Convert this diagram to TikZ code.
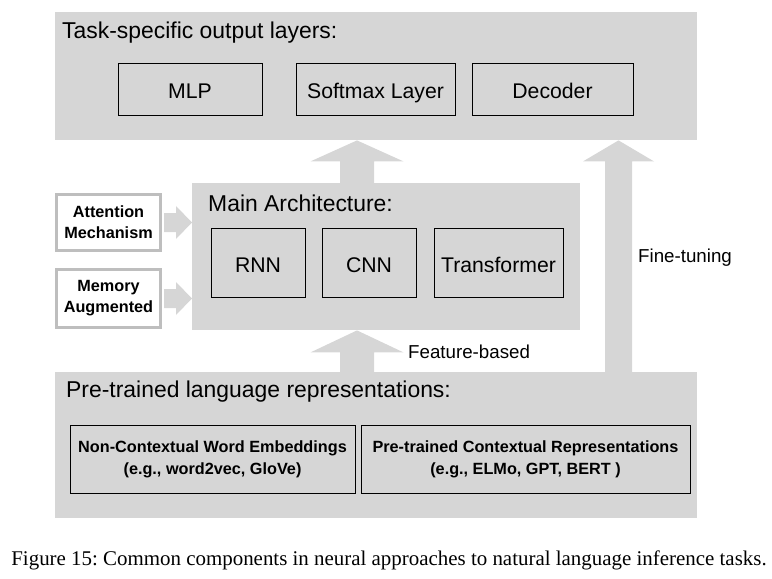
\documentclass[tikz,border=0pt]{standalone}
\usepackage{fontspec}
\setmainfont{Liberation Serif}
\setsansfont{Liberation Sans}
\usepackage{tikz}
\usetikzlibrary{calc}
\definecolor{panelgray}{RGB}{214,214,214}
\definecolor{edgegray}{RGB}{190,190,190}
\def\upblock(#1)(#2)(#3:#4:#5){\fill[panelgray] ($(#1)+(-#3,0)$) -- ($(#2)+(-#3,#5)$) -- ($(#2)+(-#4,#5)$) -- (#2) -- ($(#2)+(#4,#5)$) -- ($(#2)+(#3,#5)$) -- ($(#1)+(#3,0)$) -- cycle;}
\def\rightblock(#1)(#2)(#3:#4:#5){\fill[panelgray] ($(#1)+(2,-#3)$) -- ($(#2)+(-#5,-#3)$) -- ($(#2)+(-#5,-#4)$) -- (#2) -- ($(#2)+(-#5,#4)$) -- ($(#2)+(-#5,#3)$) -- ($(#1)+(2,#3)$) -- cycle;}
\tikzset{
  panel/.style={fill=panelgray, inner sep=0, anchor=north west},
  title/.style={inner sep=0, anchor=west, font=\sffamily\fontsize{23}{27}\selectfont},
  unit/.style={draw, line width=0.8bp, inner sep=0, text height=20bp, text depth=0pt, font=\sffamily\fontsize{21.3}{25}\selectfont},
  extra/.style={draw=edgegray, fill=white, line width=3bp, inner sep=0, minimum width=104bp, align=center, font=\sffamily\bfseries\fontsize{16.3}{21}\selectfont},
  embed/.style={draw, line width=0.8bp, inner sep=0, minimum height=68bp, align=center, font=\sffamily\bfseries\fontsize{16.3}{22}\selectfont},
  note/.style={inner sep=0, anchor=west, font=\sffamily\fontsize{18.8}{22}\selectfont}
}

\begin{document}
\begin{tikzpicture}[x=1bp, y=-1bp]
		%%%%% START %%%%%
		\useasboundingbox (0,0) rectangle (772,579);
		
		% output layers
		\node[panel, minimum width=642bp, minimum height=128bp] (top) at (55,12) {};
		\node[title] (toptitle) at (62,33) {Task-specific output layers:};
		\node[unit, minimum width=144bp, minimum height=52bp] (mlp) at (190,89) {MLP};
		\node[unit, minimum width=159bp, minimum height=52bp] (softmax) at (375.5,89) {Softmax Layer};
		\node[unit, minimum width=161bp, minimum height=52bp] (decoder) at (552.5,89) {Decoder};
		
		% main architecture
		\node[panel, minimum width=388bp, minimum height=147bp] (main) at (192,183) {};
		\node[title] (maintitle) at (208,203) {Main Architecture:};
		\node[unit, minimum width=94bp, minimum height=69bp] (rnn) at (258,262.5) {RNN};
		\node[unit, minimum width=94bp, minimum height=69bp] (cnn) at (369,262.5) {CNN};
		\node[unit, minimum width=129bp, minimum height=69bp] (transformer) at (498.5,262.5) {Transformer};
		
		\node[extra, minimum height=56bp] (attn) at (108.5,222.5) {Attention\\Mechanism};
		\node[extra, minimum height=58bp] (memory) at (108.5,298.5) {Memory\\Augmented};
		
		% pre-trained representations
		\node[panel, minimum width=642bp, minimum height=146bp] (bottom) at (55,372) {};
		\node[title] (bottomtitle) at (66,392) {Pre-trained language representations:};
		\node[embed, minimum width=285bp] (static) at (212.5,459) {Non-Contextual Word Embeddings\\(e.g., word2vec, GloVe)};
		\node[embed, minimum width=329bp] (context) at (525.5,459) {Pre-trained Contextual Representations\\(e.g., ELMo, GPT, BERT )};
		
		% arrows
		\coordinate (featx) at (357,0);
		\coordinate (finex) at (618.5,0);
		\upblock(featx |- main.north)(featx |- top.south)(17:46.5:21)
		\upblock(featx |- bottom.north)(featx |- main.south)(17:46.5:22)
		\upblock(finex |- bottom.north)(finex |- top.south)(13.5:35.5:21)
		\rightblock(attn.east)(main.west |- attn.east)(9.5:16.5:16)
		\rightblock(memory.east)(main.west |- memory.east)(9.5:16.5:16)
		
		\node[note] (featlabel) at (408,352) {Feature-based};
		\node[note] (finelabel) at (638,258) {Fine-tuning};
		
		\node[inner sep=0, font=\rmfamily\fontsize{21}{25}\selectfont] (caption) at (389,560) {\frenchspacing Figure 15: Common components in neural approaches to natural language inference tasks.};
		%%%%% END %%%%%
	\end{tikzpicture}
\end{document}
